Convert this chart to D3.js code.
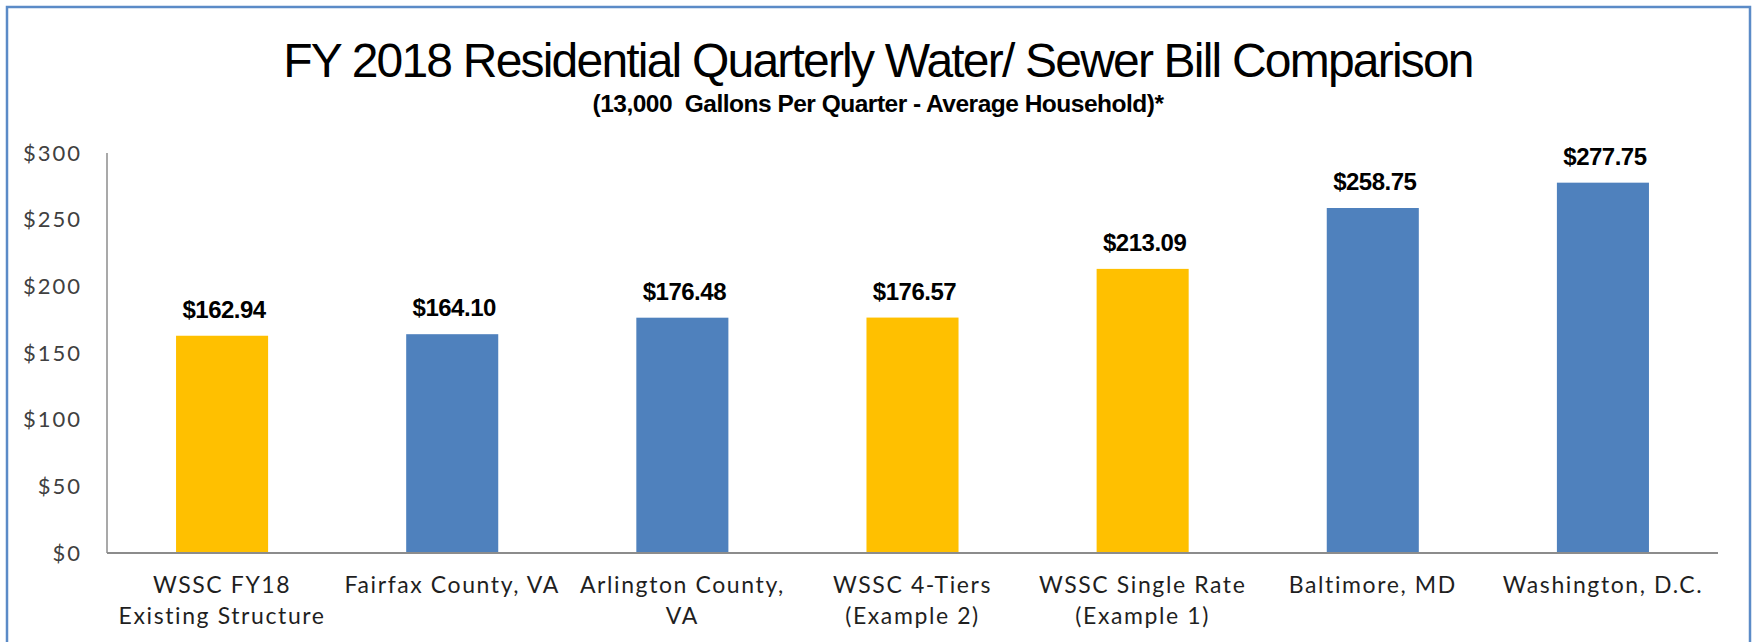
<!DOCTYPE html>
<html>
<head>
<meta charset="utf-8">
<script src="https://cdn.jsdelivr.net/npm/d3@7"></script>
<style>
  html, body { margin: 0; padding: 0; background: #fff; }
  svg { display: block; }
</style>
</head>
<body>
<svg id="chart"></svg>
<script>
// Chart data
const categories = [
  'WSSC FY18|Existing Structure',
  'Fairfax County, VA',
  'Arlington County,|VA',
  'WSSC 4-Tiers|(Example 2)',
  'WSSC Single Rate|(Example 1)',
  'Baltimore, MD',
  'Washington, D.C.'
];
const billValues = [162.94, 164.10, 176.48, 176.57, 213.09, 258.75, 277.75];
const isWSSC = [true, false, false, true, true, false, false];
const yTicks = [0, 50, 100, 150, 200, 250, 300];

const titleText = 'FY 2018 Residential Quarterly Water/ Sewer Bill Comparison';
const subtitleText = '(13,000  Gallons Per Quarter - Average Household)*';

const colors = {
  wssc: '#FFC000',
  other: '#4F81BD',
  axis: '#8C8C8C',
  frame: '#5B8BC7',
  tick: '#404040',
  label: '#1F1F1F'
};

const width = 1757;
const height = 642;

const margin = { top: 153, left: 107, right: 1757 - 1718, bottom: 642 - 553 };

const svg = d3.select('#chart')
  .attr('width', width)
  .attr('height', height);

// Outer frame (runs off the bottom of the picture)
svg.append('rect')
  .attr('x', 7)
  .attr('y', 7)
  .attr('width', 1750 - 7)
  .attr('height', 700)
  .style('fill', 'none')
  .style('stroke', colors.frame)
  .style('stroke-width', 2.5);

// Title, squeezed a little to look like the original rendering
const centerX = 878;

svg.append('text')
  .attr('x', centerX)
  .attr('y', 77)
  .attr('text-anchor', 'middle')
  .style('font-family', '"Liberation Sans", Arial, sans-serif')
  .style('font-size', '48px')
  .style('letter-spacing', '-1.8px')
  .style('fill', '#000')
  .text(titleText);

svg.append('text')
  .attr('x', centerX)
  .attr('y', 112)
  .attr('text-anchor', 'middle')
  .attr('xml:space', 'preserve')
  .style('white-space', 'pre')
  .style('font-family', '"Liberation Sans", Arial, sans-serif')
  .style('font-weight', 'bold')
  .style('font-size', '24.5px')
  .style('letter-spacing', '-0.5px')
  .style('fill', '#000')
  .text(subtitleText);

// Scales
const xScale = d3.scaleBand()
  .domain(categories)
  .range([margin.left, width - margin.right])
  .paddingInner(0.6)
  .paddingOuter(0.3);

const yScale = d3.scaleLinear()
  .domain([0, 300])
  .range([height - margin.bottom, margin.top]);

// Y axis labels
const yAxis = d3.axisLeft(yScale)
  .tickValues(yTicks)
  .tickSize(0)
  .tickPadding(25)
  .tickFormat(d => `$${d}`);

const yGroup = svg.append('g')
  .attr('class', 'y-axis')
  .attr('transform', `translate(${margin.left}, 0)`)
  .call(yAxis);

yGroup.select('.domain').remove();
yGroup.selectAll('text')
  .style('font-family', 'Lato, "Open Sans", sans-serif')
  .style('font-size', '22px')
  .style('letter-spacing', '2px')
  .style('fill', colors.tick);

// Bars
svg.append('g')
  .attr('class', 'bar-group')
  .selectAll('rect.bar')
  .data(billValues)
  .join('rect')
  .attr('class', 'bar')
  .attr('x', (d, i) => xScale(categories[i]))
  .attr('y', d => yScale(d))
  .attr('width', xScale.bandwidth())
  .attr('height', d => yScale(0) - yScale(d))
  .style('fill', (d, i) => isWSSC[i] ? colors.wssc : colors.other);

// Value labels above the bars
svg.append('g')
  .attr('class', 'value-group')
  .selectAll('text.value')
  .data(billValues)
  .join('text')
  .attr('class', 'value')
  .attr('x', (d, i) => xScale(categories[i]) + xScale.bandwidth() / 2 + 2)
  .attr('y', d => yScale(d) - 18)
  .attr('text-anchor', 'middle')
  .style('font-family', '"Liberation Sans", Arial, sans-serif')
  .style('font-weight', 'bold')
  .style('font-size', '24px')
  .style('letter-spacing', '-0.5px')
  .style('fill', '#000')
  .text(d => `$${d.toFixed(2)}`);

// Axis lines
svg.append('line')
  .attr('x1', margin.left)
  .attr('x2', margin.left)
  .attr('y1', yScale(300))
  .attr('y2', yScale(0))
  .style('stroke', colors.axis)
  .style('stroke-width', 1.5);

const xAxis = d3.axisBottom(xScale)
  .tickSize(0)
  .tickPadding(0)
  .tickFormat('');

const xGroup = svg.append('g')
  .attr('class', 'x-axis')
  .attr('transform', `translate(0, ${yScale(0)})`)
  .call(xAxis);

xGroup.select('.domain')
  .attr('d', `M${margin.left},0H${width - margin.right}`)
  .style('stroke', colors.axis)
  .style('stroke-width', 2);

// Two-line category labels
xGroup.selectAll('.tick')
  .append('text')
  .attr('class', 'cat-label')
  .attr('text-anchor', 'middle')
  .style('font-family', 'Lato, "Open Sans", sans-serif')
  .style('font-size', '23px')
  .style('letter-spacing', '1.6px')
  .style('fill', colors.label)
  .each((d, i, g) => {
    const lines = d.split('|');
    d3.select(g[i]).selectAll('tspan')
      .data(lines)
      .join('tspan')
      .attr('x', 0)
      .attr('y', (l, j) => 40 + j * 31)
      .text(l => l);
  });
</script>
</body>
</html>
